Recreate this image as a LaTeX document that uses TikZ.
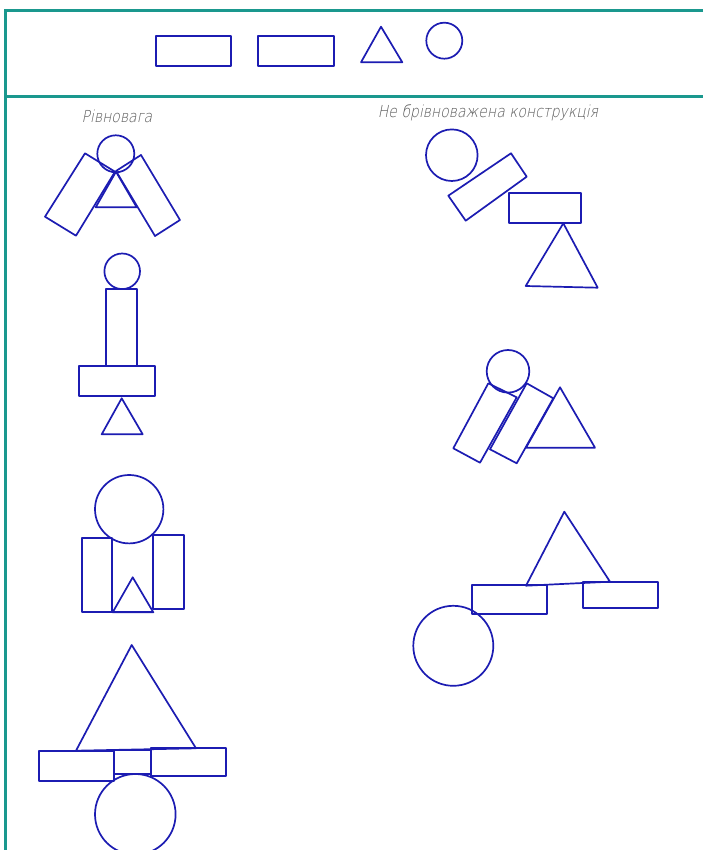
\documentclass[tikz,border=0pt]{standalone}
\usepackage{fontspec}
\newfontfamily\gostfont{DejaVu Sans ExtraLight}[FakeSlant=0.2,FakeStretch=0.85]
\usepackage{tikz}
\usetikzlibrary{positioning}
\definecolor{frameteal}{RGB}{26,152,142}
\definecolor{figblue}{RGB}{28,28,178}
\definecolor{labelgray}{RGB}{90,90,90}
\tikzset{
	fig/.style={figblue, line width=1.7pt, line join=round},
	frameline/.style={frameteal, line width=3pt},
	caption/.style={font=\gostfont\fontsize{16.5}{16.5}\selectfont, text=labelgray, inner sep=0pt}
}

\begin{document}
\begin{tikzpicture}[x=1pt,y=-1pt]
	\useasboundingbox (0,0) rectangle (703,850);
	\fill[white] (0,0) rectangle (703,850);
	\draw[frameline] (703,11) -- (5,11) -- (5,850);
	\draw[frameline] (5,97) -- (703,97);
	\begin{scope}
		\draw[fig] (156,36) rectangle (231,66);
		\draw[fig] (258,36) rectangle (334,66);
		\draw[fig] (361,62.3) -- (381,26.7) -- (402.3,62.3) -- cycle;
		\draw[fig] (444.3,40.7) circle[radius=18pt];
	\end{scope}
	\node[caption] (balanced) at (117,116) {Рівновага};
	\node[caption] (unbalanced) at (488,113) {Не брівноважена конструкція};
	\begin{scope}
		\draw[fig] (115.8,153.8) circle[radius=18.5pt];
		\draw[fig] (85,153.3) -- (115,171.7) -- (76,235.7) -- (45,216.7) -- cycle;
		\draw[fig] (116,171) -- (141,155) -- (180,220) -- (155,236) -- cycle;
		\draw[fig] (95.7,207.3) -- (116,171.7) -- (136.7,207.3) -- cycle;
	\end{scope}
	\begin{scope}
		\draw[fig] (122.2,271.3) circle[radius=17.8pt];
		\draw[fig] (106,289.3) rectangle (137.3,365.7);
		\draw[fig] (79,366) rectangle (155,395.7);
		\draw[fig] (101.7,434.3) -- (121.7,398.3) -- (142.7,434.3) -- cycle;
	\end{scope}
	\begin{scope}
		\draw[fig] (129.2,509.2) circle[radius=34.2pt];
		\draw[fig] (81.7,537.7) rectangle (111.7,612.3);
		\draw[fig] (152.7,534.7) rectangle (184,609);
		\draw[fig] (112.7,612.3) -- (132.7,577.3) -- (153.3,612.3) -- cycle;
		\draw[fig] (111.7,612.3) -- (152.7,612.3);
	\end{scope}
	\begin{scope}
		\draw[fig] (76,750.7) -- (131.7,645) -- (196,748.3) -- cycle;
		\draw[fig] (39,751) rectangle (114.3,781);
		\draw[fig] (114.3,750) rectangle (151,774);
		\draw[fig] (151,748.3) rectangle (225.7,775.7);
		\draw[fig] (135.3,814.3) circle[radius=40.3pt];
	\end{scope}
	\begin{scope}
		\draw[fig] (451.8,155.2) circle[radius=25.8pt];
		\draw[fig] (448.3,195.7) -- (511,153.3) -- (526.7,176.7) -- (465.7,220.7) -- cycle;
		\draw[fig] (509,192.7) rectangle (580.7,223.3);
		\draw[fig] (525.7,286) -- (563.3,223.3) -- (597.7,287.7) -- cycle;
	\end{scope}
	\begin{scope}
		\draw[fig] (508,371.3) circle[radius=21.3pt];
		\draw[fig] (488.3,383.3) -- (516.7,397.3) -- (480,462.7) -- (453.3,448.3) -- cycle;
		\draw[fig] (526.7,383.3) -- (553.3,398.3) -- (516.7,463.3) -- (490,449.3) -- cycle;
		\draw[fig] (526,447.7) -- (560,387.3) -- (595,447.7) -- cycle;
	\end{scope}
	\begin{scope}
		\draw[fig] (526,585.7) -- (564.3,511.7) -- (610,581.7) -- cycle;
		\draw[fig] (471.7,585) rectangle (546.7,614.3);
		\draw[fig] (582.7,581.7) rectangle (657.7,608.3);
		\draw[fig] (453.3,645.8) circle[radius=40pt];
	\end{scope}
\end{tikzpicture}
\end{document}
